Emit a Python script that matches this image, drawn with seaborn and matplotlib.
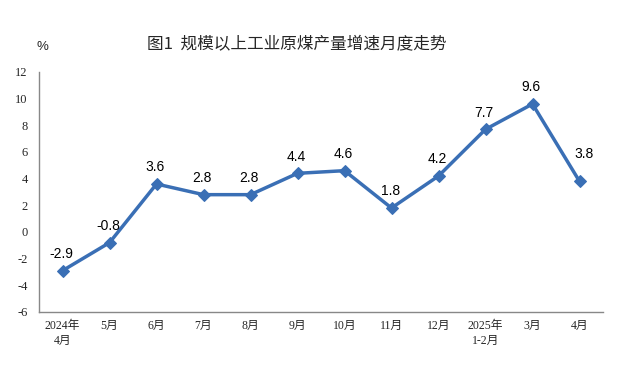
import matplotlib
matplotlib.use("Agg")
import matplotlib.pyplot as plt
import seaborn as sns
import pandas as pd

categories = ["2024年\n4月", "5月", "6月", "7月", "8月", "9月", "10月", "11月", "12月", "2025年\n1-2月", "3月", "4月"]
values = [-2.9, -0.8, 3.6, 2.8, 2.8, 4.4, 4.6, 1.8, 4.2, 7.7, 9.6, 3.8]
yticks = [-6, -4, -2, 0, 2, 4, 6, 8, 10, 12]

sns.set_style("white")
plt.rcParams['font.family'] = ['Liberation Sans', 'Noto Sans CJK SC', 'DejaVu Sans']

df = pd.DataFrame({"x": range(len(categories)), "v": values})
color = "#3a6fb5"

fig = plt.figure(figsize=(6.23, 3.67), dpi=100)
ax = fig.add_axes([39/623, 1-312/367, (603-39)/623, 240/367])
sns.lineplot(data=df, x="x", y="v", ax=ax, color=color, linewidth=2.5,
             marker="D", markersize=6, markeredgecolor=color, markerfacecolor=color)

for i, v in enumerate(values):
    off = (3, 15) if i == len(values) - 1 else (-1, 7)
    ax.annotate(f"{v:.1f}", (i, v), xytext=off, textcoords="offset points",
                ha="center", va="bottom", fontsize=10, color="black",
                family=['Liberation Sans', 'Noto Sans CJK SC'])

ax.set_xlim(-0.5, len(categories) - 0.5)
ax.set_ylim(-6, 12)
ax.set_yticks(yticks)
ax.set_yticklabels([str(t) for t in yticks], family=['Liberation Serif', 'Noto Sans CJK SC'], fontsize=9)
ax.set_xticks([i + 0.5 for i in range(-1, len(categories))], minor=False)
ax.set_xticklabels([])
ax.set_xticks(range(len(categories)), minor=True)
ax.set_xticklabels(categories, minor=True, family=['Liberation Serif', 'Noto Sans CJK SC'], fontsize=8.5, linespacing=1.3)
ax.tick_params(axis="x", which="minor", length=0, pad=6)
ax.tick_params(axis="x", which="major", direction="in", length=4, color="#999999")
ax.tick_params(axis="y", direction="in", length=4, color="#999999", pad=8)
ax.set_xlabel("")
ax.set_ylabel("")
for s in ["top", "right"]:
    ax.spines[s].set_visible(False)
for s in ["left", "bottom"]:
    ax.spines[s].set_color("#888888")
    ax.spines[s].set_linewidth(1)

fig.text(297/623, 1-45/367, "图1  规模以上工业原煤产量增速月度走势", ha="center", va="center",
         fontsize=12, family=['Noto Sans CJK SC', 'DejaVu Sans'])
fig.text(42/623, 1-47/367, "%", ha="center", va="center", fontsize=9.5,
         family=['Liberation Sans', 'DejaVu Sans'])

fig.savefig("out.png", dpi=100)
